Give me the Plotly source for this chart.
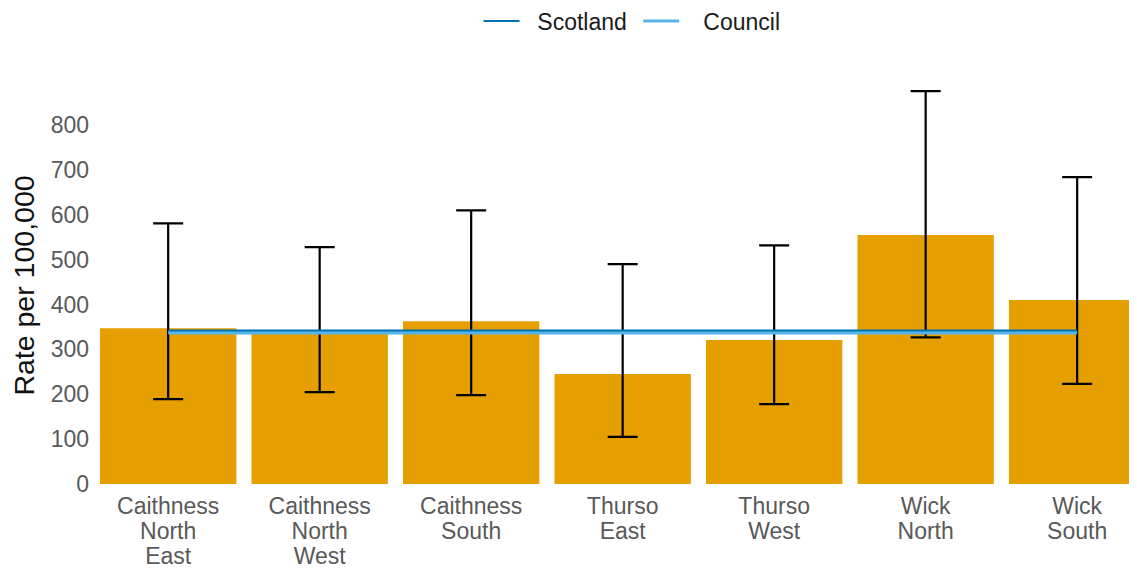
import plotly.graph_objects as go

categories = [["Caithness", "North", "East"], ["Caithness", "North", "West"], ["Caithness", "South"],
              ["Thurso", "East"], ["Thurso", "West"], ["Wick", "North"], ["Wick", "South"]]
rates = [347, 335, 363, 245, 321, 555, 410]
upper = [581, 528, 610, 490, 532, 876, 684]
lower = [189, 205, 198, 105, 178, 327, 223]
scotland = [342, 342, 342, 342, 342, 342, 342]
council = [338, 338, 338, 338, 338, 338, 338]
y_ticks = [0, 100, 200, 300, 400, 500, 600, 700, 800]

err_plus = [u - r for u, r in zip(upper, rates)]
err_minus = [r - l for r, l in zip(rates, lower)]
xs = list(range(len(categories)))
ticktext = ["<br>".join('<span style="font-size:23px">%s</span>' % w for w in c) for c in categories]
NB = "\u00a0"

fig = go.Figure()
fig.add_trace(go.Bar(
    x=xs, y=rates, width=0.9, marker=dict(color="#E69F00", line=dict(width=0)),
    showlegend=False,
    error_y=dict(type="data", symmetric=False, array=err_plus, arrayminus=err_minus,
                 color="black", thickness=2.2, width=15),
))
fig.add_trace(go.Scatter(x=xs, y=council, mode="lines", name="Council",
                         line=dict(color="#56B4E9", width=4), showlegend=False))
fig.add_trace(go.Scatter(x=xs, y=scotland, mode="lines", name=NB * 2 + "Scotland" + NB,
                         line=dict(color="#0072B2", width=2)))
fig.add_trace(go.Scatter(x=[None], y=[None], mode="lines", name=NB * 3 + "Council",
                         line=dict(color="#56B4E9", width=3)))

fig.update_layout(
    width=1137, height=569,
    margin=dict(l=92, r=8, t=79, b=93, autoexpand=False),
    plot_bgcolor="white", paper_bgcolor="white",
    font=dict(family="Liberation Sans, Arial, sans-serif", size=19, color="#595959"),
    legend=dict(orientation="h", x=0.365, xanchor="left", y=1.166, yanchor="middle",
                itemwidth=36,
                font=dict(size=23, color="#1a1a1a"), traceorder="normal"),
    xaxis=dict(range=[-0.45, 6.395], tickmode="array", tickvals=xs, ticktext=ticktext,
               showgrid=False, zeroline=False, showline=False, ticks="",
               ticklabelstandoff=9,
               tickfont=dict(size=19.5, color="#595959")),
    yaxis=dict(range=[0, 885], tickmode="array", tickvals=y_ticks,
               showgrid=False, zeroline=False, showline=False, ticks="",
               ticklabelstandoff=10,
               tickfont=dict(size=23, color="#595959"),
               title=dict(text="Rate per 100,000", font=dict(size=28.5, color="#111111"), standoff=10)),
)
fig.write_html("out.html")
